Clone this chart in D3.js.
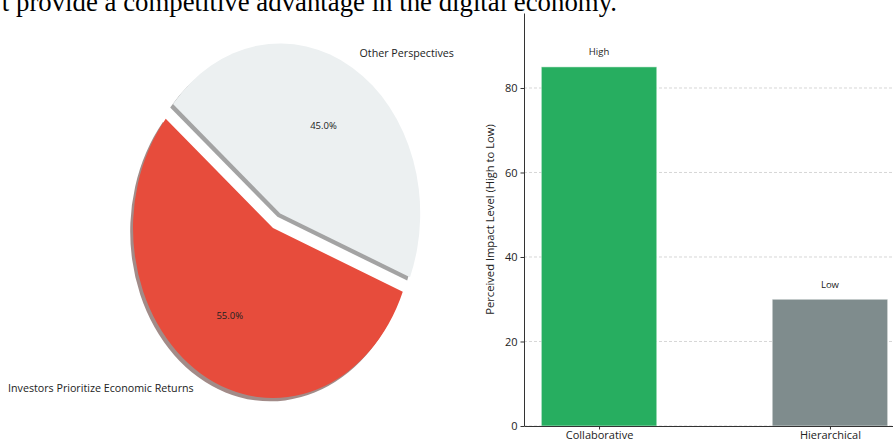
<!DOCTYPE html>
<html>
<head>
<meta charset="utf-8">
<script src="https://cdn.jsdelivr.net/npm/d3@7"></script>
<style>
  html, body { margin: 0; padding: 0; background: #fff; }
  svg { display: block; }
</style>
</head>
<body>
<svg id="chart" width="893" height="444"></svg>
<script>
// ---- data ----
const titleText = "t provide a competitive advantage in the digital economy.";
const pieLabels = ["Investors Prioritize Economic Returns", "Other Perspectives"];
const pieValues = [55, 45];
const pieColors = ["#e74c3c", "#ecf0f1"];
const pieExplode = [0, 0.1];

const barCategories = ["Collaborative", "Hierarchical"];
const barValues = [85, 30];
const barTextLabels = ["High", "Low"];
const barColors = ["#27ae60", "#7f8c8d"];
const yTicks = [0, 20, 40, 60, 80];

const FONT = "'Open Sans', 'Noto Sans', sans-serif";
const svg = d3.select("#chart");

// ---- title (cut off at top) ----
svg.append("text")
  .attr("x", 617).attr("y", 11)
  .attr("text-anchor", "end")
  .attr("font-family", "'Liberation Serif', 'Times New Roman', serif")
  .attr("font-size", 26.8)
  .attr("fill", "#000")
  .text(titleText);

// ---- pie (elliptical, matplotlib-like) ----
const cx = 273, cy = 228, rx = 140, ry = 170;
const startDeg = 140; // matplotlib startangle, counterclockwise
const a0 = (90 - startDeg) * Math.PI / 180;
const pie = d3.pie().sort(null).value(d => d).startAngle(a0).endAngle(a0 - 2 * Math.PI);
const arcs = pie(pieValues);
const arc = d3.arc().innerRadius(0).outerRadius(1);

function dirOf(a) { // d3 angle -> unit vector (screen)
  return [Math.sin(a), -Math.cos(a)];
}

const pieG = svg.append("g");
arcs.forEach((d, i) => {
  const mid = (d.startAngle + d.endAngle) / 2;
  const [ux, uy] = dirOf(mid);
  const ex = cx + pieExplode[i] * rx * ux;
  const ey = cy + pieExplode[i] * ry * uy;
  const c = d3.rgb(pieColors[i]);
  const shade = d3.rgb(c.r * 0.3, c.g * 0.3, c.b * 0.3);
  pieG.append("path")
    .attr("d", arc(d))
    .attr("transform", `translate(${ex - 0.02 * rx},${ey + 0.02 * ry}) scale(${rx},${ry})`)
    .attr("fill", shade.formatHex())
    .attr("fill-opacity", 0.5);
});
arcs.forEach((d, i) => {
  const mid = (d.startAngle + d.endAngle) / 2;
  const [ux, uy] = dirOf(mid);
  const ex = cx + pieExplode[i] * rx * ux;
  const ey = cy + pieExplode[i] * ry * uy;
  pieG.append("path")
    .attr("d", arc(d))
    .attr("transform", `translate(${ex},${ey}) scale(${rx},${ry})`)
    .attr("fill", pieColors[i]);
  const lx = ex + 1.1 * rx * ux, ly = ey + 1.1 * ry * uy;
  pieG.append("text")
    .attr("x", lx).attr("y", ly)
    .attr("dy", "0.35em")
    .attr("text-anchor", ux < 0 ? "end" : "start")
    .attr("font-family", FONT).attr("font-size", 10.7)
    .attr("fill", "#222")
    .text(pieLabels[i]);
  const px = ex + 0.6 * rx * ux, py = ey + 0.6 * ry * uy;
  const total = d3.sum(pieValues);
  pieG.append("text")
    .attr("x", px).attr("y", py)
    .attr("dy", "0.35em")
    .attr("text-anchor", "middle")
    .attr("font-family", FONT).attr("font-size", 9.5)
    .attr("fill", "#222")
    .text((pieValues[i] / total * 100).toFixed(1) + "%");
});

// ---- bar chart ----
const axLeft = 524, axRight = 905, axTop = 13, axBottom = 426;
const x = d3.scalePoint().domain(barCategories).range([axLeft, axRight]).padding(0.325);
const y = d3.scaleLinear().domain([0, 97.75]).range([axBottom, axTop]);
const bw = x.step() * 0.5;

const barG = svg.append("g");
barG.selectAll("line.grid").data(yTicks).enter().append("line")
  .attr("x1", axLeft).attr("x2", axRight)
  .attr("y1", d => y(d)).attr("y2", d => y(d))
  .attr("stroke", "#cccccc").attr("stroke-width", 0.8)
  .attr("stroke-dasharray", "3,2");

barG.selectAll("rect.bar").data(barValues).enter().append("rect")
  .attr("x", (d, i) => x(barCategories[i]) - bw / 2)
  .attr("y", d => y(d))
  .attr("width", bw)
  .attr("height", d => y(0) - y(d))
  .attr("fill", (d, i) => barColors[i])
  .attr("stroke", "#ffffff").attr("stroke-opacity", 0.5).attr("stroke-width", 1);

barG.selectAll("text.blab").data(barValues).enter().append("text")
  .attr("x", (d, i) => x(barCategories[i]))
  .attr("y", d => y(d) - 15)
  .attr("dy", "0.35em")
  .attr("text-anchor", "middle")
  .attr("font-family", FONT).attr("font-size", 9.5)
  .attr("fill", "#222")
  .text((d, i) => barTextLabels[i]);

const yAxis = barG.append("g")
  .attr("transform", `translate(${axLeft},0)`)
  .call(d3.axisLeft(y).tickValues(yTicks).tickSize(3.5).tickSizeOuter(0).tickPadding(3));
const xAxis = barG.append("g")
  .attr("transform", `translate(0,${axBottom})`)
  .call(d3.axisBottom(x).tickSize(3.5).tickSizeOuter(0).tickPadding(2));
[yAxis, xAxis].forEach(g => {
  g.selectAll("path.domain").attr("stroke", "#333").attr("stroke-width", 1);
  g.selectAll(".tick line").attr("stroke", "#333");
  g.selectAll(".tick text").attr("font-family", FONT).attr("font-size", 11).attr("fill", "#222");
});

svg.append("text")
  .attr("transform", `translate(490,${(axTop + axBottom) / 2}) rotate(-90)`)
  .attr("text-anchor", "middle")
  .attr("dy", "0.35em")
  .attr("font-family", FONT).attr("font-size", 11.2)
  .attr("fill", "#222")
  .text("Perceived Impact Level (High to Low)");
</script>
</body>
</html>
